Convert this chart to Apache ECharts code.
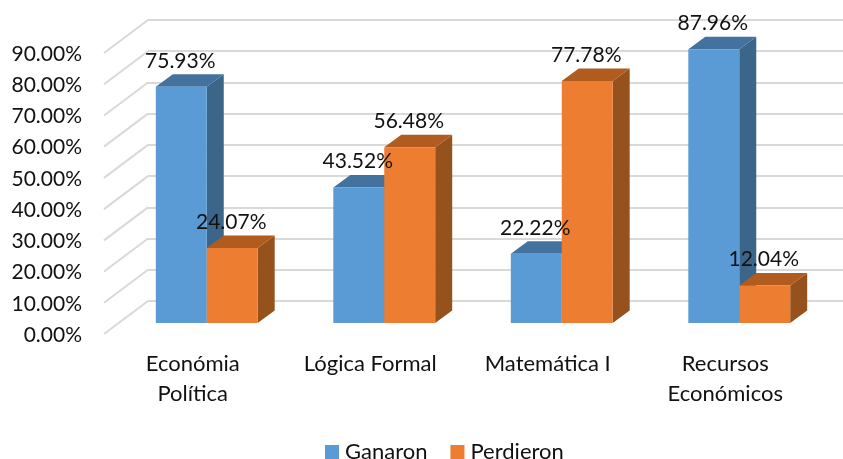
<!DOCTYPE html>
<html>
<head>
<meta charset="utf-8">
<script src="https://cdn.jsdelivr.net/npm/echarts@6/dist/echarts.min.js"></script>
<style>
html, body { margin: 0; padding: 0; background: #fff; }
#main { width: 843px; height: 459px; overflow: hidden; }
</style>
</head>
<body>
<div id="main"></div>
<script>
const categories = ['Económia\nPolítica', 'Lógica Formal', 'Matemática I', 'Recursos\nEconómicos'];
const ganaron = [75.93, 43.52, 22.22, 87.96];
const perdieron = [24.07, 56.48, 77.78, 12.04];
const ticks = [0, 10, 20, 30, 40, 50, 60, 70, 80, 90];

const FONT = 'Lato';
const DEPTH_X = 17, DEPTH_Y = 12.5;   // fake 3d depth of a bar
const WALL_X = 44, WALL_Y = 33;       // floor diagonal of the back wall

const chart = echarts.init(document.getElementById('main'), null, { renderer: 'canvas' });

// one 3d bar: front, side, top and its label
const bar3d = (side, front, sideColor, topColor, order) => (params, api) => {
    const base = api.coord([api.value(0), 0]);
    const top = api.coord([api.value(0), api.value(1)]);
    const w = api.size([1, 0])[0] * 0.287;
    const x0 = base[0] + side * w, x1 = x0 + w;
    const y0 = top[1], y1 = base[1];
    const poly = (points, fill) => ({
        type: 'polygon', z2: order, shape: { points }, style: { fill }
    });
    return {
        type: 'group',
        children: [
            poly([[x1, y0], [x1 + DEPTH_X, y0 - DEPTH_Y], [x1 + DEPTH_X, y1 - DEPTH_Y], [x1, y1]], sideColor),
            poly([[x0, y0], [x0 + DEPTH_X, y0 - DEPTH_Y], [x1 + DEPTH_X, y0 - DEPTH_Y], [x1, y0]], topColor),
            poly([[x0, y0], [x1, y0], [x1, y1], [x0, y1]], front),
            {
                type: 'text', z2: 100,
                style: {
                    x: (x0 + x1) / 2 - 1, y: y0 - 26,
                    text: api.value(1).toFixed(2) + '%',
                    fill: '#111', font: '21px ' + FONT,
                    align: 'center', verticalAlign: 'middle'
                }
            }
        ]
    };
};

chart.setOption({
    animation: false,
    textStyle: { fontFamily: FONT },
    legend: {
        left: 320, top: 436,
        itemWidth: 14, itemHeight: 14, itemGap: 23,
        icon: 'rect',
        textStyle: { fontSize: 22, color: '#111', fontFamily: FONT, padding: [0, 0, 0, 1] },
        data: ['Ganaron', 'Perdieron']
    },
    grid: [
        { left: 118, width: 710, top: 43, height: 280 },  // bars
        { left: 148, right: 0, top: 20, height: 281 },    // back wall
        { left: 104, width: 10, top: 54, height: 281 }    // tick labels
    ],
    xAxis: [
        {
            gridIndex: 0, type: 'category', data: categories,
            axisLine: { show: false }, axisTick: { show: false },
            axisLabel: {
                fontSize: 22, color: '#111', margin: 26, lineHeight: 30, fontFamily: FONT,
                padding: [0, 28, 0, 0]
            }
        },
        { gridIndex: 1, type: 'value', min: 0, max: 1, show: false },
        { gridIndex: 2, type: 'value', min: 0, max: 1, show: false }
    ],
    yAxis: [
        { gridIndex: 0, type: 'value', min: 0, max: 90, interval: 10, show: false },
        {
            gridIndex: 1, type: 'value', min: 0, max: 90, interval: 10,
            axisLine: { show: false }, axisTick: { show: false }, axisLabel: { show: false },
            splitLine: { show: true, lineStyle: { color: '#d9d9d9', width: 2 } }
        },
        {
            gridIndex: 2, type: 'value', min: 0, max: 90, interval: 10,
            axisLine: { show: false }, axisTick: { show: false }, splitLine: { show: false },
            axisLabel: {
                fontSize: 21, color: '#111', margin: 22, fontFamily: FONT,
                formatter: v => v.toFixed(2) + '%'
            }
        }
    ],
    series: [
        {
            type: 'custom', xAxisIndex: 1, yAxisIndex: 1, silent: true, z: 1,
            data: ticks.map(t => [0, t]),
            encode: { x: 0, y: 1 },
            renderItem: (params, api) => {
                const p = api.coord([api.value(0), api.value(1)]);
                return {
                    type: 'line',
                    shape: { x1: p[0], y1: p[1], x2: p[0] - WALL_X, y2: p[1] + WALL_Y },
                    style: { stroke: '#d9d9d9', lineWidth: 2 }
                };
            }
        },
        {
            name: 'Ganaron', type: 'custom', xAxisIndex: 0, yAxisIndex: 0, z: 2, clip: false,
            itemStyle: { color: '#5b9bd5' },
            data: ganaron.map((v, i) => [i, v]),
            encode: { x: 0, y: 1 },
            renderItem: bar3d(-1, '#5b9bd5', '#3b6589', '#44729e', 1)
        },
        {
            name: 'Perdieron', type: 'custom', xAxisIndex: 0, yAxisIndex: 0, z: 2, clip: false,
            itemStyle: { color: '#ed7d31' },
            data: perdieron.map((v, i) => [i, v]),
            encode: { x: 0, y: 1 },
            renderItem: bar3d(0, '#ed7d31', '#96521d', '#b15b1f', 2)
        }
    ]
});
</script>
</body>
</html>
